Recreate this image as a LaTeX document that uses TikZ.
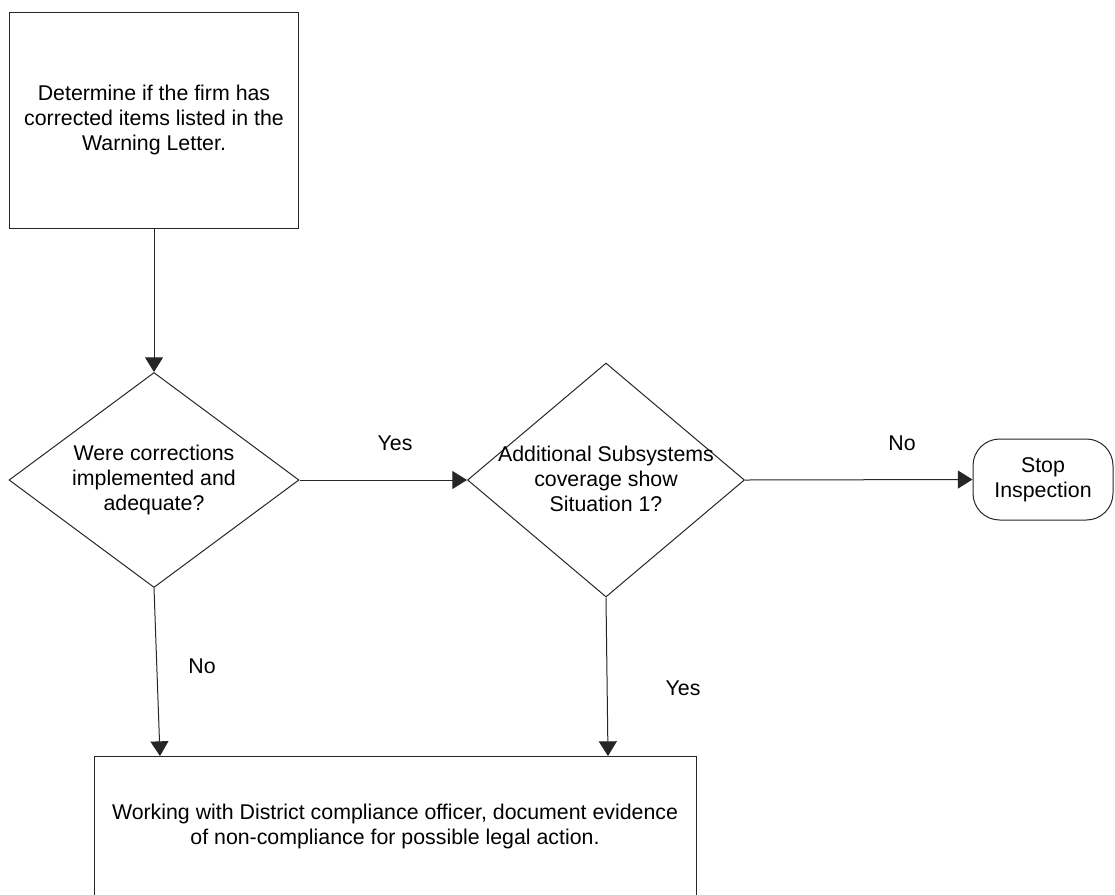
\documentclass[tikz,border=0pt]{standalone}
\usepackage{fontspec}
\setmainfont{Liberation Sans}
\usetikzlibrary{arrows.meta}
\usetikzlibrary{shapes.geometric}
\tikzset{box/.style = {draw, rectangle, inner sep = 0, align = center}}
\tikzset{decision/.style = {draw, diamond, inner sep = 0}}
\tikzset{terminal/.style = {draw, rectangle, rounded corners = 20pt, inner sep = 0, align = center}}
\tikzset{txt/.style = {align = center, inner sep = 0}}
\tikzset{flow/.style = {-{Triangle[width = 13.5pt, length = 11pt]}}}

\begin{document}
\begin{tikzpicture}[x = 0.75pt, y = -0.75pt, line width = 0.75pt, draw = black!85,
                    font = \fontsize{16}{18.75}\selectfont]
    \useasboundingbox (0, 0) rectangle (1115, 894);

    \node [box, minimum width = 216.75pt, minimum height = 162pt] (determine) at (154, 120)
        {Determine if the firm has\\corrected items listed in the\\Warning Letter.};

    \node [decision, minimum width = 217.5pt, minimum height = 161.25pt] (corrected) at (154, 480) {};
    \node [txt] (correctedtext) at (154, 480) {Were corrections\\implemented and\\adequate?};

    \node [decision, minimum width = 207.75pt, minimum height = 175.5pt] (situation) at (606, 480) {};
    \node [txt] (situationtext) at (606, 479) {Additional Subsystems\\coverage show\\Situation 1?};

    \node [terminal, minimum width = 105pt, minimum height = 60.75pt] (stop) at (1043, 479.5)
        {Stop\\Inspection};

    \node [box, minimum width = 451.5pt, minimum height = 105.75pt] (action) at (395, 826.5)
        {Working with District compliance officer, document evidence\\of non-compliance for possible legal action.};

    \coordinate (noend) at (160, 756);
    \coordinate (yesend) at (608, 756);

    \draw [flow] (determine.south) -- (corrected.north);
    \draw [flow] (corrected.east) -- (situation.west);
    \draw [flow] (situation.east) -- (stop.west);
    \draw [flow] (corrected.south) -- (noend);
    \draw [flow] (situation.south) -- (yesend);

    \node (yesright) at (395, 443) {Yes};
    \node (noright) at (902, 443) {No};
    \node (nodown) at (202, 666) {No};
    \node (yesdown) at (683, 688) {Yes};
\end{tikzpicture}
\end{document}
